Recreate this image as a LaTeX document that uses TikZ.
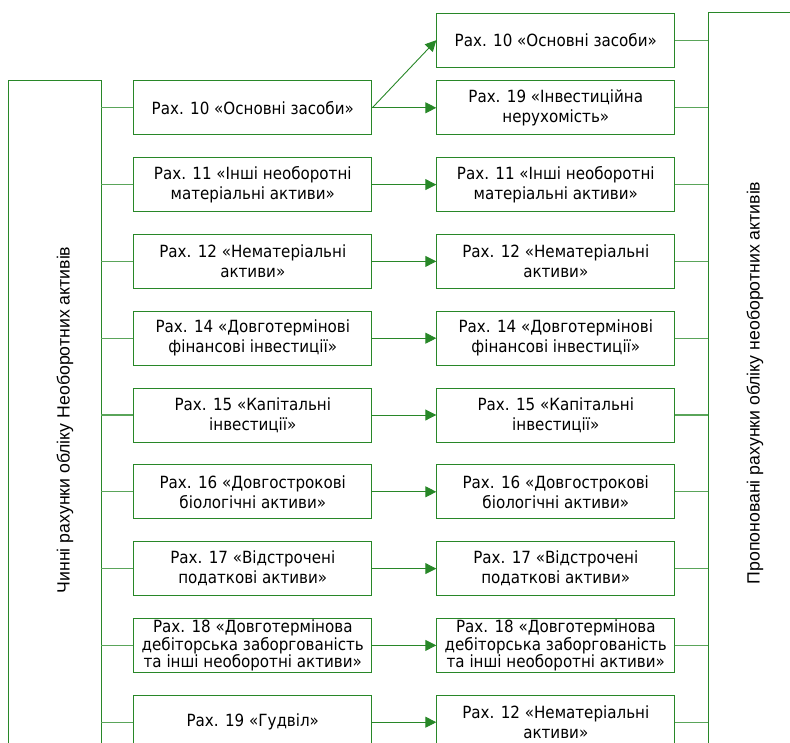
\documentclass[tikz,border=0pt]{standalone}
\usepackage{fontspec}
\setmainfont{DejaVu Sans Condensed}
\newfontfamily\labfont{Liberation Sans}
\usetikzlibrary{arrows.meta}
\definecolor{gr}{RGB}{40,135,40}
\definecolor{grl}{RGB}{90,165,90}
\tikzset{
  acc/.style={draw=gr, line width=1pt, minimum width=238pt, minimum height=54pt, align=center, inner sep=0pt, font=\fontsize{16.8}{20}\selectfont, anchor=north west},
  acctri/.style={acc, font=\fontsize{16.8}{17.5}\selectfont},
  conn/.style={draw=grl, line width=1.1pt},
  arr/.style={draw=gr, line width=0.9pt, -{Triangle[length=11pt,width=11pt]}},
  vlab/.style={font=\labfont\fontsize{17.7}{20}\selectfont, rotate=90}
}
\begin{document}
\begin{tikzpicture}[x=1pt,y=-1pt]
\useasboundingbox (0,0) rectangle (790,742);
\clip (0,0) rectangle (790,742);
% side frames
\draw[gr, line width=1pt] (8,800) -- (8,80.5) -- (101,80.5) -- (101,800);
\draw[gr, line width=1pt] (708,800) -- (708,12.7) -- (800,12.7);
\coordinate (lc) at (101,0);
\coordinate (rc) at (708,0);
\node[vlab] (lt) at (65,420) {Чинні рахунки обліку Необоротних активів};
\node[vlab] (rt) at (755,383) {Пропоновані рахунки обліку необоротних активів};
% left boxes
\foreach \k/\s/\t in {0/acc/{Рах. 10 «Основні засоби»},
  1/acc/{Рах. 11 «Інші необоротні\\матеріальні активи»},
  2/acc/{Рах. 12 «Нематеріальні\\активи»},
  3/acc/{Рах. 14 «Довготермінові\\фінансові інвестиції»},
  4/acc/{Рах. 15 «Капітальні\\інвестиції»},
  5/acc/{Рах. 16 «Довгострокові\\біологічні активи»},
  6/acc/{Рах. 17 «Відстрочені\\податкові активи»},
  7/acctri/{Рах. 18 «Довготермінова\\дебіторська заборгованість\\та інші необоротні активи»},
  8/acc/{Рах. 19 «Гудвіл»}}{
  \node[\s] (L\k) at (133.3, 80.3+76.8*\k) {\t};
  \draw[conn] (L\k.west) -- (L\k.west -| lc);
}
% right boxes
\node[acc] (R0) at (436.3, 12.7) {Рах. 10 «Основні засоби»};
\foreach \k/\s/\t in {0/acc/{Рах. 19 «Інвестиційна\\нерухомість»},
  1/acc/{Рах. 11 «Інші необоротні\\матеріальні активи»},
  2/acc/{Рах. 12 «Нематеріальні\\активи»},
  3/acc/{Рах. 14 «Довготермінові\\фінансові інвестиції»},
  4/acc/{Рах. 15 «Капітальні\\інвестиції»},
  5/acc/{Рах. 16 «Довгострокові\\біологічні активи»},
  6/acc/{Рах. 17 «Відстрочені\\податкові активи»},
  7/acctri/{Рах. 18 «Довготермінова\\дебіторська заборгованість\\та інші необоротні активи»},
  8/acc/{Рах. 12 «Нематеріальні\\активи»}}{
  \node[\s] (S\k) at (436.3, 80.3+76.8*\k) {\t};
  \draw[conn] (S\k.east) -- (S\k.east -| rc);
  \draw[arr] (L\k.east) -- (S\k.west);
}
\draw[conn] (R0.east) -- (R0.east -| rc);
\draw[arr] (L0.east) -- (R0.west);
\end{tikzpicture}
\end{document}
